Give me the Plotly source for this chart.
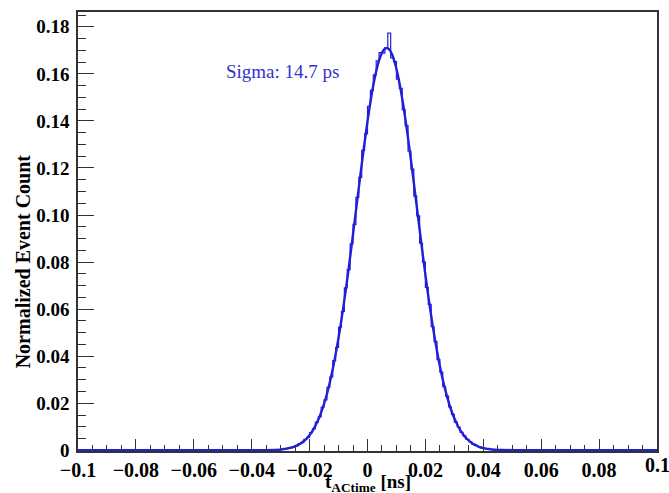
import numpy as np
import plotly.graph_objects as go

# ---- data ----
bin_width = 0.001
x_min, x_max = -0.1, 0.1
# non-empty histogram bins, left edges from -0.030 to 0.044 (centers -0.0295 .. 0.0445)
hist_first_edge = -0.030
hist_vals = [
    0.0005, 0.0005, 0.0009, 0.0010, 0.0016, 0.0019, 0.0027, 0.0033, 0.0046, 0.0055,
    0.0075, 0.0091, 0.0120, 0.0142, 0.0183, 0.0214, 0.0268, 0.0312, 0.0381, 0.0437,
    0.0523, 0.0590, 0.0690, 0.0768, 0.0878, 0.0960, 0.1075, 0.1160, 0.1275, 0.1345,
    0.1462, 0.1530, 0.1596, 0.1655, 0.1690, 0.1688, 0.1712, 0.1773, 0.1668, 0.1652,
    0.1578, 0.1538, 0.1448, 0.1380, 0.1272, 0.1195, 0.1080, 0.0996, 0.0880, 0.0800,
    0.0692, 0.0620, 0.0526, 0.0462, 0.0385, 0.0332, 0.0270, 0.0230, 0.0184, 0.0153,
    0.0120, 0.0099, 0.0076, 0.0061, 0.0046, 0.0037, 0.0026, 0.0021, 0.0016, 0.0010,
    0.0008, 0.0005, 0.0004, 0.0002, 0.0002,
]
fit_x = [-0.1, -0.04, -0.0295, -0.0285, -0.0275, -0.0265, -0.0255, -0.0245, -0.0235, -0.0225,
         -0.0215, -0.0205, -0.0195, -0.0185, -0.0175, -0.0165, -0.0155, -0.0145, -0.0135,
         -0.0125, -0.0115, -0.0105, -0.0095, -0.0085, -0.0075, -0.0065, -0.0055, -0.0045,
         -0.0035, -0.0025, -0.0015, -0.0005, 0.0005, 0.0015, 0.0025, 0.0035, 0.0045, 0.0055,
         0.0065, 0.0075, 0.0085, 0.0095, 0.0105, 0.0115, 0.0125, 0.0135, 0.0145, 0.0155,
         0.0165, 0.0175, 0.0185, 0.0195, 0.0205, 0.0215, 0.0225, 0.0235, 0.0245, 0.0255,
         0.0265, 0.0275, 0.0285, 0.0295, 0.0305, 0.0315, 0.0325, 0.0335, 0.0345, 0.0355,
         0.0365, 0.0375, 0.0385, 0.0395, 0.0405, 0.0415, 0.0425, 0.0435, 0.0445, 0.055, 0.1]
fit_y = [0.0, 0.0, 0.0004, 0.0006, 0.0008, 0.0011, 0.0015, 0.0020, 0.0026, 0.0034,
         0.0044, 0.0057, 0.0073, 0.0093, 0.0117, 0.0145, 0.0179, 0.0218, 0.0264,
         0.0317, 0.0376, 0.0443, 0.0516, 0.0596, 0.0682, 0.0773, 0.0869, 0.0968,
         0.1067, 0.1166, 0.1263, 0.1354, 0.1440, 0.1517, 0.1582, 0.1636, 0.1675, 0.1700,
         0.1710, 0.1704, 0.1682, 0.1645, 0.1594, 0.1530, 0.1456, 0.1372, 0.1281, 0.1186,
         0.1087, 0.0988, 0.0889, 0.0793, 0.0700, 0.0613, 0.0531, 0.0457, 0.0389, 0.0328,
         0.0274, 0.0227, 0.0186, 0.0151, 0.0122, 0.0097, 0.0077, 0.0060, 0.0047, 0.0036,
         0.0027, 0.0021, 0.0015, 0.0011, 0.0008, 0.0006, 0.0004, 0.0003, 0.0002, 0.0, 0.0]

y_tickvals = [0, 0.02, 0.04, 0.06, 0.08, 0.10, 0.12, 0.14, 0.16, 0.18]
y_ticktext = ["0", "0.02", "0.04", "0.06", "0.08", "0.10", "0.12", "0.14", "0.16", "0.18"]
x_tickvals = [-0.1, -0.08, -0.06, -0.04, -0.02, 0, 0.02, 0.04, 0.06, 0.08, 0.1]
x_ticktext = ["\u22120.1", "\u22120.08", "\u22120.06", "\u22120.04", "\u22120.02", "0",
              "0.02", "0.04", "0.06", "0.08", "0.1"]
sigma_label = "Sigma: 14.7 ps"
x_title = "<b>t</b><sub><b>ACtime</b></sub><b> [ns]</b>"
y_title = "<b>Normalized Event Count</b>"

# ---- build full histogram ----
n_bins = int(round((x_max - x_min) / bin_width))
edges = np.linspace(x_min, x_max, n_bins + 1)
counts = np.zeros(n_bins)
start = int(round((hist_first_edge - x_min) / bin_width))
counts[start:start + len(hist_vals)] = hist_vals
hx = list(edges)
hy = list(counts) + [counts[-1]]

blue = "rgb(32,32,215)"
serif = "Liberation Serif, Times New Roman, serif"
tick_font = dict(family=serif, size=20, color="black", weight="bold")

fig = go.Figure()
fig.add_trace(go.Scatter(x=hx, y=hy, mode="lines", line=dict(color=blue, width=1.2, shape="hv"),
                         hoverinfo="skip", showlegend=False))
fig.add_trace(go.Scatter(x=fit_x, y=fit_y, mode="lines",
                         line=dict(color=blue, width=2.4, shape="spline", smoothing=0.6),
                         hoverinfo="skip", showlegend=False))

fig.add_annotation(x=-0.0294, y=0.161, xref="x", yref="y", text=sigma_label, showarrow=False,
                   font=dict(family=serif, size=19, color="rgb(50,50,205)"),
                   xanchor="center", yanchor="middle")
fig.add_annotation(x=0.5, y=-0.072, xref="paper", yref="paper", text=x_title, showarrow=False,
                   font=dict(family=serif, size=19, color="black"),
                   xanchor="center", yanchor="middle")
fig.add_annotation(x=-0.096, y=0.433, xref="paper", yref="paper", text=y_title, showarrow=False,
                   textangle=-90, font=dict(family=serif, size=20, color="black"),
                   xanchor="center", yanchor="middle")
# last x tick label runs past the page edge (plotly would hide it), so draw it as text
fig.add_annotation(x=x_tickvals[-1], y=-0.033, xref="x", yref="paper", text=x_ticktext[-1],
                   showarrow=False, font=tick_font, xanchor="center", yanchor="middle")

fig.update_layout(
    width=669, height=493,
    margin=dict(l=78, r=10, t=10, b=42),
    paper_bgcolor="white", plot_bgcolor="white",
    font=dict(family=serif, color="black"),
)
fig.update_xaxes(
    range=[x_min, x_max], showgrid=False, zeroline=False,
    tickmode="array", tickvals=x_tickvals, ticktext=x_ticktext,
    ticks="inside", ticklen=12, tickwidth=1, tickcolor="#333",
    minor=dict(dtick=0.005, tick0=0, ticks="inside", ticklen=6, tickwidth=1, tickcolor="#333"),
    showline=True, linecolor="#333", linewidth=1.5, mirror=True,
    tickfont=tick_font,
    ticklabelstandoff=0,
)
fig.update_yaxes(
    range=[-0.0003, 0.1863], showgrid=False, zeroline=False,
    tickmode="array", tickvals=y_tickvals, ticktext=y_ticktext,
    ticks="inside", ticklen=16, tickwidth=1, tickcolor="#333",
    minor=dict(dtick=0.005, tick0=0, ticks="inside", ticklen=8, tickwidth=1, tickcolor="#333"),
    showline=True, linecolor="#333", linewidth=1.5, mirror=True,
    tickfont=dict(family=serif, size=19, color="black", weight="bold"),
    ticklabelstandoff=3,
)

fig.write_html("out.html")
